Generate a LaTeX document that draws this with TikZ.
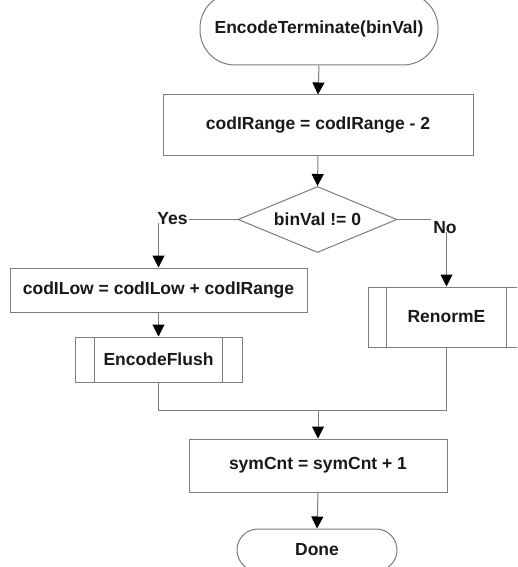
\documentclass[tikz,border=0pt]{standalone}
\usepackage{fontspec}
\setmainfont{Liberation Sans}
\usetikzlibrary{shapes.geometric,arrows.meta}
\definecolor{linegray}{RGB}{125,125,125}
\definecolor{txt}{RGB}{25,25,25}
\tikzset{
  base/.style={draw=linegray, line width=1pt, text=txt, inner sep=0pt,
    font=\fontsize{17.5}{20}\selectfont\bfseries, align=center},
  procbox/.style={base, rectangle},
  termbox/.style={base, rectangle},
  decbox/.style={base, diamond, aspect=2.4},
  lbl/.style={text=txt, inner sep=0pt, font=\fontsize{17.5}{20}\selectfont\bfseries},
  conn/.style={draw=linegray, line width=1pt},
  arr/.style={conn, -{Triangle[length=12pt,width=12pt,color=black]}},
}
\begin{document}
\begin{tikzpicture}[x=1pt,y=-1pt]
\useasboundingbox (0,0) rectangle (517,567);
\clip (0,0) rectangle (517,567);
\fill[white] (0,0) rectangle (517,567);

\node[termbox, rounded corners=35pt, minimum width=238pt, minimum height=72pt] (start) at (319,29) {EncodeTerminate(binVal)};
\node[procbox, minimum width=310pt, minimum height=60pt] (r1) at (318,125) {codIRange = codIRange - 2};
\node[decbox, minimum width=159pt, minimum height=66pt] (d) at (317.5,219.5) {binVal != 0};
\node[lbl] (yes) at (172.5,219) {Yes};
\node[lbl] (no) at (445,228) {No};
\node[procbox, minimum width=297pt, minimum height=44pt] (r2) at (158.5,290) {codILow = codILow + codIRange};
\node[procbox, minimum width=167pt, minimum height=45pt] (s1) at (158.5,359.5) {EncodeFlush};
\node[procbox, minimum width=157pt, minimum height=60pt] (s2) at (446.5,317) {RenormE};
\coordinate (m) at (318,410);
\node[procbox, minimum width=258pt, minimum height=53pt] (r4) at (318,465.5) {symCnt = symCnt + 1};
\node[termbox, rounded corners=21pt, minimum width=160pt, minimum height=42pt] (done) at (317,550) {Done};

% subroutine inner bars
\draw[conn] ([xshift=20pt]s1.north west) -- ([xshift=20pt]s1.south west);
\draw[conn] ([xshift=-20pt]s1.north east) -- ([xshift=-20pt]s1.south east);
\draw[conn] ([xshift=19pt]s2.north west) -- ([xshift=19pt]s2.south west);
\draw[conn] ([xshift=-19pt]s2.north east) -- ([xshift=-19pt]s2.south east);

% connectors
\draw[arr] (start.south) -- (r1.north);
\draw[arr] (r1.south) -- (d.north);
\draw[conn] (d.west) -- ([xshift=1pt]yes.east |- d.west);
\draw[arr] ([yshift=2pt]r2.north |- yes.south) -- (r2.north);
\draw[conn] (d.east) -- ([xshift=-2pt]no.west |- d.east);
\draw[arr] ([yshift=2pt]s2.north |- no.south) -- (s2.north);
\draw[arr] (r2.south) -- (s1.north);
\draw[conn] (s1.south) -- (s1.south |- m) -- (s2.south |- m) -- (s2.south);
\draw[arr] (m) -- (r4.north);
\draw[arr] (r4.south) -- (done.north);
\end{tikzpicture}
\end{document}
